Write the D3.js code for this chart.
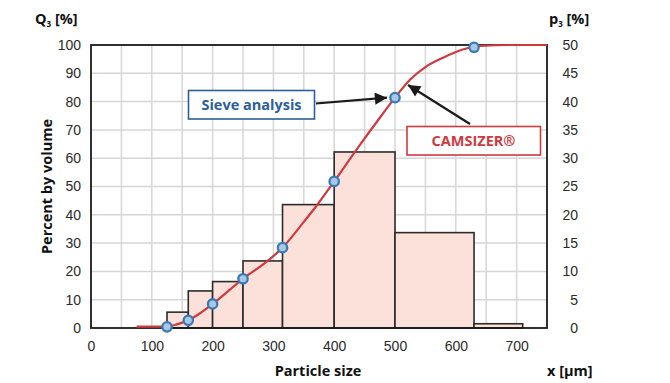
<!DOCTYPE html>
<html>
<head>
<meta charset="utf-8">
<script src="https://cdn.jsdelivr.net/npm/d3@7"></script>
<style>
	body { margin: 0; background: #fff; }
	svg { display: block; font-family: "Open Sans", sans-serif; }
	.tick text { font-size: 14px; fill: #2a2a2a; }
	.title { font-weight: 700; font-size: 14.5px; fill: #111; }
</style>
</head>
<body>
<script>
// class edges and p3 (right axis, %) per class
var binEdges = [125, 160, 200, 250, 315, 400, 500, 630, 710];
var p3Values = [2.8, 6.55, 8.2, 11.85, 21.8, 31.1, 16.85, 0.75];

// sieve analysis, Q3 at class edges
var sieveX = [125, 160, 200, 250, 315, 400, 500, 630];
var sieveQ3 = [0.4, 2.7, 8.5, 17.4, 28.4, 51.8, 81.4, 99.2];

// CAMSIZER cumulative curve
var camX = [75, 100, 125, 140, 160, 180, 200, 250, 290, 315, 350, 371, 400, 440, 472, 500, 525, 550, 580, 610, 640, 690, 750];
var camQ3 = [0.5, 0.5, 0.6, 1.2, 2.7, 5.3, 8.5, 17.4, 23.6, 28.4, 37.5, 43.2, 51.8, 64, 73.4, 81.4, 87.8, 92.2, 95.6, 98.3, 99.7, 100, 100];

var xTicks = [0, 100, 200, 300, 400, 500, 600, 700];
var leftTicks = [0, 10, 20, 30, 40, 50, 60, 70, 80, 90, 100];
var rightTicks = [0, 5, 10, 15, 20, 25, 30, 35, 40, 45, 50];

var width = 670, height = 383;
var plotL = 91, plotR = 547, plotT = 45, plotB = 328;

var red = '#cf3a40';
var blue = '#2b5f9c';

var svg = d3.select('body').append('svg')
	.attr('width', width)
	.attr('height', height);

var x = d3.scaleLinear().domain([0, 750]).range([plotL, plotR]);
var yL = d3.scaleLinear().domain([0, 100]).range([plotB, plotT]);
var yR = d3.scaleLinear().domain([0, 50]).range([plotB, plotT]);

// grid
var grid = svg.append('g').attr('class', 'grid');
grid.selectAll('line.v')
	.data(d3.range(50, 750, 50))
	.enter().append('line')
	.attr('x1', function(d) { return x(d); })
	.attr('x2', function(d) { return x(d); })
	.attr('y1', plotT)
	.attr('y2', plotB)
	.attr('stroke', '#d6d6d6')
	.attr('stroke-width', 1.5);
grid.selectAll('line.h')
	.data(d3.range(10, 100, 10))
	.enter().append('line')
	.attr('x1', plotL)
	.attr('x2', plotR)
	.attr('y1', function(d) { return yL(d); })
	.attr('y2', function(d) { return yL(d); })
	.attr('stroke', '#d6d6d6')
	.attr('stroke-width', 1.5);

// histogram
svg.append('g').selectAll('rect')
	.data(p3Values)
	.enter().append('rect')
	.attr('x', function(d, i) { return x(binEdges[i]); })
	.attr('width', function(d, i) { return x(binEdges[i+1]) - x(binEdges[i]); })
	.attr('y', function(d) { return yR(d); })
	.attr('height', function(d) { return yR(0) - yR(d); })
	.attr('fill', '#fbe1d9')
	.attr('stroke', '#2b2b2b')
	.attr('stroke-width', 1.6);

// frame
svg.append('rect')
	.attr('x', plotL)
	.attr('y', plotT)
	.attr('width', plotR - plotL)
	.attr('height', plotB - plotT)
	.attr('fill', 'none')
	.attr('stroke', '#1a1a1a')
	.attr('stroke-width', 1.8);

// CAMSIZER curve
var line = d3.line()
	.x(function(d) { return x(d[0]); })
	.y(function(d) { return yL(d[1]); })
	.curve(d3.curveMonotoneX);

svg.append('path')
	.datum(d3.zip(camX, camQ3))
	.attr('d', line)
	.attr('fill', 'none')
	.attr('stroke', red)
	.attr('stroke-width', 2.2);

// sieve points
svg.append('g').selectAll('circle')
	.data(d3.zip(sieveX, sieveQ3))
	.enter().append('circle')
	.attr('cx', function(d) { return x(d[0]); })
	.attr('cy', function(d) { return yL(d[1]); })
	.attr('r', 4.7)
	.attr('fill', '#a9c9e2')
	.attr('stroke', '#3a7ab4')
	.attr('stroke-width', 2.3);

// axes
var xAxis = svg.append('g')
	.attr('transform', 'translate(0,' + (plotB + 6) + ')')
	.call(d3.axisBottom(x).tickValues(xTicks).tickSize(0).tickPadding(7));
var lAxis = svg.append('g')
	.attr('transform', 'translate(' + (plotL - 10) + ',0)')
	.call(d3.axisLeft(yL).tickValues(leftTicks).tickSize(0).tickPadding(0));
var rAxis = svg.append('g')
	.attr('transform', 'translate(' + (plotR + 31) + ',0)')
	.call(d3.axisLeft(yR).tickValues(rightTicks).tickSize(0).tickPadding(0));
[xAxis, lAxis, rAxis].forEach(function(a) {
	a.select('.domain').remove();
	a.selectAll('text').attr('font-family', null).attr('font-size', null);
});

// titles
var q = svg.append('text').attr('class', 'title').attr('x', 35).attr('y', 24);
q.append('tspan').text('Q');
q.append('tspan').attr('font-size', 8).attr('dy', 3).text('3');
q.append('tspan').attr('dy', -3).text(' [%]');

var p = svg.append('text').attr('class', 'title').attr('x', 549).attr('y', 24);
p.append('tspan').text('p');
p.append('tspan').attr('font-size', 8).attr('dy', 3).text('3');
p.append('tspan').attr('dy', -3).text(' [%]');

svg.append('text').attr('class', 'title')
	.attr('transform', 'translate(52,' + ((plotT + plotB) / 2) + ') rotate(-90)')
	.attr('text-anchor', 'middle')
	.text('Percent by volume');

svg.append('text').attr('class', 'title')
	.attr('x', 318).attr('y', 376)
	.attr('text-anchor', 'middle')
	.text('Particle size');

svg.append('text').attr('class', 'title')
	.attr('x', 547).attr('y', 376)
	.text('x [µm]');

// annotations
var defs = svg.append('defs');
defs.append('marker')
	.attr('id', 'arrow')
	.attr('viewBox', '0 0 10 10')
	.attr('refX', 10).attr('refY', 5)
	.attr('markerWidth', 6.5).attr('markerHeight', 5.5)
	.attr('markerUnits', 'strokeWidth')
	.attr('orient', 'auto')
	.append('path')
	.attr('d', 'M0,0 L10,5 L0,10 Z')
	.attr('fill', '#1a1a1a');

svg.append('line')
	.attr('x1', 316).attr('y1', 103.5)
	.attr('x2', x(500) - 8).attr('y2', yL(81.4))
	.attr('stroke', '#1a1a1a').attr('stroke-width', 2.2)
	.attr('marker-end', 'url(#arrow)');

svg.append('line')
	.attr('x1', 470).attr('y1', 124)
	.attr('x2', 408).attr('y2', 85)
	.attr('stroke', '#1a1a1a').attr('stroke-width', 2.2)
	.attr('marker-end', 'url(#arrow)');

svg.append('rect')
	.attr('x', 188.5).attr('y', 90.5)
	.attr('width', 126).attr('height', 28.5)
	.attr('fill', '#fff').attr('stroke', blue).attr('stroke-width', 1.6);
svg.append('text')
	.attr('x', 251.5).attr('y', 109.5)
	.attr('text-anchor', 'middle')
	.attr('font-weight', 700).attr('font-size', 14.5)
	.attr('fill', blue)
	.text('Sieve analysis');

svg.append('rect')
	.attr('x', 407).attr('y', 126.5)
	.attr('width', 133.5).attr('height', 28.5)
	.attr('fill', '#fff').attr('stroke', red).attr('stroke-width', 1.6);
svg.append('text')
	.attr('x', 473.5).attr('y', 146)
	.attr('text-anchor', 'middle')
	.attr('font-weight', 700).attr('font-size', 14.5)
	.attr('fill', red)
	.text('CAMSIZER®');
</script>
</body>
</html>
